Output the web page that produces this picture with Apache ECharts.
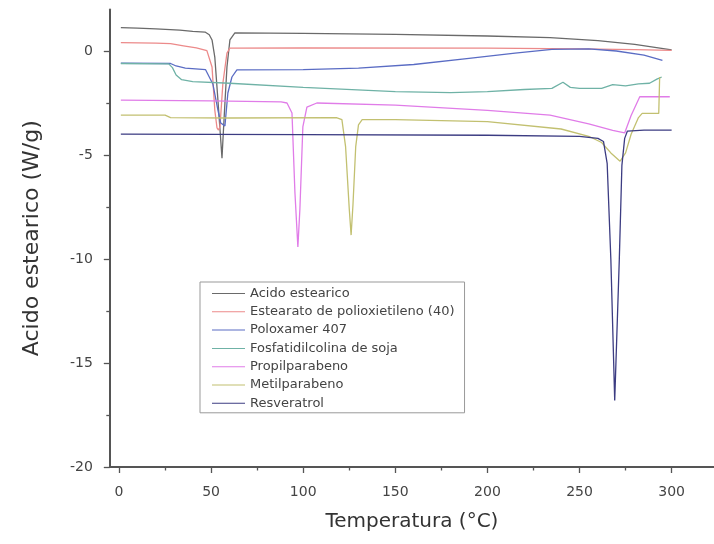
<!DOCTYPE html>
<html>
<head>
<meta charset="utf-8">
<script src="https://cdn.jsdelivr.net/npm/echarts@6/dist/echarts.min.js"></script>
<style>
html,body{margin:0;padding:0;background:#fff;}
#chart{width:714px;height:544px;}
</style>
</head>
<body>
<div id="chart"></div>
<script>
// ---- data (Temperatura °C, W/g) ----
const seriesNames = [
  'Acido estearico',
  'Estearato de polioxietileno (40)',
  'Poloxamer 407',
  'Fosfatidilcolina de soja',
  'Propilparabeno',
  'Metilparabeno',
  'Resveratrol'
];
const acidoEstearico = [
  [1,1.12],[10,1.1],[20,1.06],[33,1.0],[40,0.94],[46.7,0.91],[49,0.78],[50.5,0.53],[52,-0.29],[53.7,-2.36],[55,-4.0],[55.9,-5.15],
  [56.4,-4.3],[57.5,-2.5],[58.6,-0.77],[60.2,0.53],[62.9,0.87],[100,0.85],[150,0.8],[200,0.72],[234,0.64],[260,0.5],[280,0.32],[300,0.05]
];
const estearatoPolioxietileno = [
  [1,0.4],[20,0.38],[28,0.35],[35,0.25],[42,0.15],[47.7,0.02],[50.5,-0.77],[52,-2.84],[53.2,-3.7],[54,-3.8],
  [54.8,-3.65],[56.4,-1.54],[58.6,-0.1],[60.2,0.14],[100,0.15],[200,0.14],[250,0.1],[280,0.07],[300,0.03]
];
const poloxamer407 = [
  [1,-0.59],[28,-0.6],[31,-0.72],[36,-0.82],[47,-0.9],[51,-1.6],[53.7,-2.84],[55.2,-3.46],[57.5,-3.6],
  [59.1,-2.02],[61.3,-1.25],[64,-0.91],[100,-0.9],[130,-0.82],[160,-0.65],[190,-0.35],[215,-0.1],[235,0.08],[255,0.1],[270,0.0],[285,-0.2],[295,-0.45]
];
const fosfatidilcolina = [
  [1,-0.6],[27,-0.62],[29,-0.8],[31,-1.15],[34,-1.38],[40,-1.47],[60,-1.55],[100,-1.75],[150,-1.95],[180,-2.0],[200,-1.95],[220,-1.85],
  [235,-1.8],[241,-1.5],[245,-1.75],[250,-1.8],[262,-1.8],[268,-1.62],[275,-1.68],[282,-1.58],[288,-1.55],[292,-1.35],[294.6,-1.25]
];
const propilparabeno = [
  [1,-2.36],[50,-2.4],[88,-2.45],[91.2,-2.5],[93.9,-2.98],[95.5,-6.8],[97.1,-9.42],[98.2,-7.6],[99.8,-3.65],[102,-2.7],[107.4,-2.5],
  [150,-2.6],[200,-2.85],[234,-3.08],[255,-3.5],[268,-3.82],[274.5,-3.94],[278,-3.1],[282.7,-2.2],[299,-2.2]
];
const metilparabeno = [
  [1,-3.08],[25,-3.08],[28,-3.2],[60,-3.22],[118,-3.2],[121,-3.3],[123,-4.6],[125,-7.6],[126,-8.85],[127,-7.4],[128.5,-4.6],
  [130,-3.55],[132,-3.3],[150,-3.3],[200,-3.4],[240,-3.75],[255,-4.1],[262,-4.4],[267,-4.9],[272,-5.3],[275,-4.9],[278,-4.0],[282,-3.2],[284,-3.0],[293,-3.0],[293.5,-1.25]
];
const resveratrol = [
  [1,-4.0],[100,-4.02],[200,-4.05],[250,-4.1],[260,-4.2],[263,-4.35],[265,-5.4],[267,-10],[269.1,-16.8],[271.6,-10],[273,-5.5],
  [274.5,-4.2],[276,-3.85],[285,-3.8],[300,-3.8]
];
const seriesColors = ['#6a6a6a','#ec8a8a','#5a6cc4','#6fb2a6','#e07ce8','#c2c070','#3c3c82'];
const xMajorTicks = [0,50,100,150,200,250,300];
const xMinorTicks = [25,75,125,175,225,275];
const yMajorTicks = [-20,-15,-10,-5,0];
const yMinorTicks = [-17.5,-12.5,-7.5,-2.5];

const allData = [acidoEstearico, estearatoPolioxietileno, poloxamer407, fosfatidilcolina, propilparabeno, metilparabeno, resveratrol];

const FONT = 'DejaVu Sans, Liberation Sans, Arial, sans-serif';
const axisColor = '#555';
const labelStyle = {fontFamily:FONT, fontSize:14, color:'#444'};

const chart = echarts.init(document.getElementById('chart'), null, {renderer:'canvas'});
chart.setOption({
  animation:false,
  backgroundColor:'#fff',
  grid:{left:109.8, top:9.4, width:604.6, height:457.6, containLabel:false},
  legend:{
    orient:'vertical', left:200, top:282,
    data:seriesNames,
    itemWidth:33, itemHeight:12, itemGap:3.3,
    padding:[4,10,2,12],
    borderColor:'#999', borderWidth:1, backgroundColor:'#fff',
    textStyle:{fontFamily:FONT, fontSize:13, lineHeight:15, color:'#444'},
    icon:'path://M0,5 L33,5 L33,6 L0,6 Z'
  },
  xAxis:[
    {type:'value', min:-5, max:323, position:'bottom',
     name:'Temperatura (°C)', nameLocation:'middle', nameGap:45,
     nameTextStyle:{fontFamily:FONT, fontSize:20, color:'#333'},
     axisLine:{show:true, onZero:false, lineStyle:{color:axisColor, width:2}},
     axisTick:{show:true, inside:false, length:6, customValues:xMajorTicks, lineStyle:{color:axisColor, width:1.3}},
     axisLabel:Object.assign({customValues:xMajorTicks, margin:18}, labelStyle),
     splitLine:{show:false}},
    {type:'value', min:-5, max:323, position:'bottom',
     axisLine:{show:false, onZero:false},
     axisTick:{show:true, inside:false, length:3.5, customValues:xMinorTicks, lineStyle:{color:axisColor, width:1.3}},
     axisLabel:{show:false},
     splitLine:{show:false}}
  ],
  yAxis:[
    {type:'value', min:-20, max:2, position:'left',
     name:'Acido estearico (W/g)', nameLocation:'middle', nameGap:67,
     nameTextStyle:{fontFamily:FONT, fontSize:22, color:'#333'},
     axisLine:{show:true, onZero:false, lineStyle:{color:axisColor, width:2}},
     axisTick:{show:true, inside:false, length:6, customValues:yMajorTicks, lineStyle:{color:axisColor, width:1.3}},
     axisLabel:Object.assign({customValues:yMajorTicks, margin:17}, labelStyle),
     splitLine:{show:false}},
    {type:'value', min:-20, max:2, position:'left',
     axisLine:{show:false, onZero:false},
     axisTick:{show:true, inside:false, length:3.5, customValues:yMinorTicks, lineStyle:{color:axisColor, width:1.3}},
     axisLabel:{show:false},
     splitLine:{show:false}}
  ],
  series: seriesNames.map((n,i)=>({
    name:n, type:'line', xAxisIndex:0, yAxisIndex:0,
    data:allData[i], symbol:'none', smooth:false,
    lineStyle:{color:seriesColors[i], width:1.3},
    itemStyle:{color:seriesColors[i]}
  }))
});
</script>
</body>
</html>
